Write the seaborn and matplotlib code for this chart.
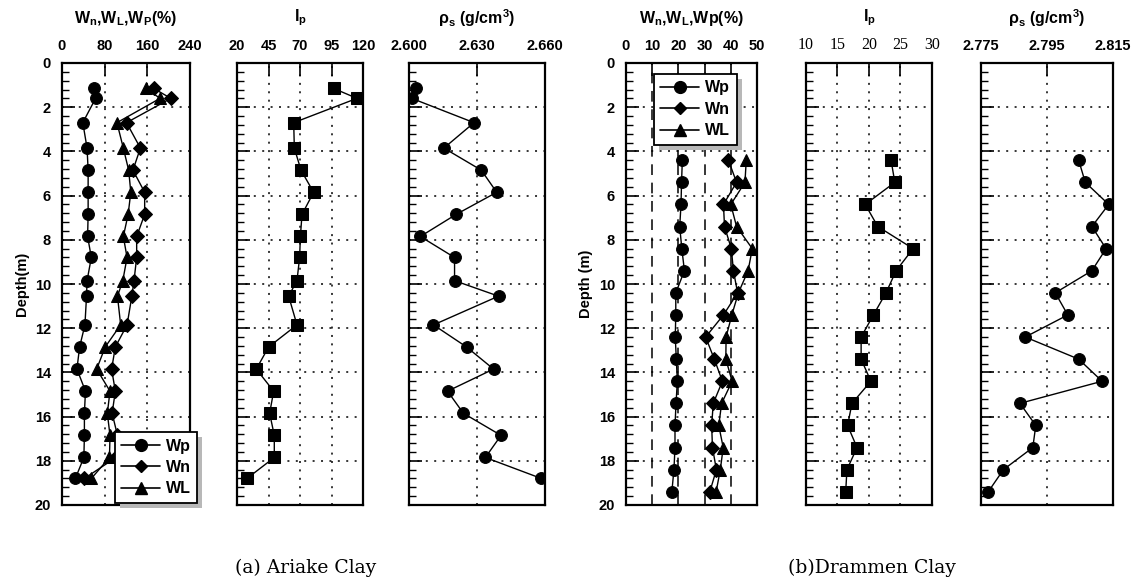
import matplotlib
matplotlib.use("Agg")
import matplotlib.pyplot as plt
import pandas as pd
import seaborn as sns
from matplotlib.lines import Line2D
from matplotlib.patches import Rectangle
from matplotlib.ticker import MultipleLocator, FixedLocator
from matplotlib.transforms import IdentityTransform

sns.set_style("white")
plt.rcParams["font.family"] = ["Liberation Sans", "DejaVu Sans"]
plt.rcParams["font.weight"] = "bold"
plt.rcParams["text.color"] = "black"
plt.rcParams["axes.labelcolor"] = "black"
plt.rcParams["xtick.color"] = "black"
plt.rcParams["ytick.color"] = "black"
plt.rcParams["mathtext.fontset"] = "custom"
plt.rcParams["mathtext.rm"] = "Liberation Sans:bold"
plt.rcParams["mathtext.it"] = "Liberation Sans:bold"
plt.rcParams["mathtext.bf"] = "Liberation Sans:bold"

# ---------------- Ariake clay profile ----------------
ariake_depth = [1.15, 1.6, 2.7, 3.85, 4.85, 5.85, 6.85, 7.85, 8.8, 9.85,
                10.55, 11.85, 12.85, 13.85, 14.85, 15.85, 16.85, 17.85, 18.8]
ariake_wp = [60, 63, 39, 47, 49, 49, 49, 48, 55, 47,
             46, 43, 33, 28, 44, 42, 42, 41, 25]
ariake_wn = [172, 204, 121, 147, 133, 155, 155, 140, 140, 135,
             131, 122, 100, 93, 100, 94, 104, 101, 42]
ariake_wl = [157, 184, 103, 115, 125, 129, 124, 115, 122, 114,
             104, 110, 81, 65, 90, 85, 90, 89, 55]
ariake_ip = [96.7, 115.2, 65, 65.5, 70.8, 80.8, 71.6, 70.3, 69.7, 67.6,
             61, 67.6, 45.1, 35.3, 49.1, 45.9, 49.6, 49.6, 27.9]
ariake_rho = [2.6033, 2.6012, 2.6287, 2.6154, 2.6319, 2.6387, 2.6208, 2.6050,
              2.6201, 2.6201, 2.6395, 2.6108, 2.6254, 2.6373, 2.6170, 2.6240,
              2.6406, 2.6337, 2.6584]

# ---------------- Drammen clay profile ----------------
drammen_depth = [4.4, 5.4, 6.4, 7.4, 8.4, 9.4, 10.4, 11.4,
                 12.4, 13.4, 14.4, 15.4, 16.4, 17.4, 18.4, 19.4]
drammen_wp = [21.5, 21.2, 21.0, 20.5, 21.3, 22.3, 19.0, 19.0,
              18.8, 19.2, 19.6, 19.1, 18.7, 18.7, 18.3, 17.5]
drammen_wn = [39.1, 42.2, 37.2, 37.6, 40.2, 41.0, 42.6, 37.2,
              30.4, 33.7, 36.8, 33.3, 32.7, 33.0, 34.5, 32.0]
drammen_wl = [45.9, 45.4, 40.0, 42.2, 48.2, 46.6, 42.9, 40.4,
              38.2, 38.1, 40.5, 36.5, 35.4, 37.1, 36.0, 34.4]
drammen_ip = [23.5, 24.1, 19.4, 21.4, 27.0, 24.3, 22.7, 20.7,
              18.75, 18.75, 20.3, 17.3, 16.6, 18.1, 16.5, 16.3]
drammen_rho = [2.8046, 2.8066, 2.8137, 2.8086, 2.8129, 2.8086, 2.7975, 2.8013,
               2.7884, 2.8046, 2.8117, 2.7868, 2.7916, 2.7907, 2.7818, 2.7772]

# axis ticks for each column
ariake_w_ticks = [0, 80, 160, 240]
ariake_ip_ticks = [20, 45, 70, 95, 120]
ariake_rho_ticks = [2.600, 2.630, 2.660]
drammen_w_ticks = [0, 10, 20, 30, 40, 50]
drammen_ip_ticks = [10, 15, 20, 25, 30]
drammen_rho_ticks = [2.775, 2.795, 2.815]

W, H = 1146, 586
fig = plt.figure(figsize=(W / 100, H / 100), dpi=100)
TOP, BOT = 63, 505


def make_axes(x0, x1):
    return fig.add_axes([x0 / W, 1 - BOT / H, (x1 - x0) / W, (BOT - TOP) / H])


DOT = (0, (1.3, 4.2))
DASH = (0, (7, 5))


def style_axes(ax, ticks, fmt, xgrid_style=DOT, show_ylabels=False, ylabel=None):
    ax.set_ylim(20, 0)
    ax.set_xlim(ticks[0], ticks[-1])
    ax.xaxis.tick_top()
    ax.xaxis.set_major_locator(FixedLocator(ticks))
    ax.set_xticklabels([fmt.format(t) for t in ticks])
    ax.yaxis.set_major_locator(MultipleLocator(2))
    ax.yaxis.set_minor_locator(MultipleLocator(0.4))
    ax.tick_params(axis="x", which="major", direction="in", length=9, width=1.2,
                   top=True, bottom=False, labelsize=10.5, pad=7)
    ax.tick_params(axis="y", which="major", direction="in", length=9, width=1.2,
                   left=True, right=False, labelleft=show_ylabels, labelsize=10.5, pad=8)
    ax.tick_params(axis="y", which="minor", direction="in", length=5, width=1,
                   left=True, right=False)
    for s in ax.spines.values():
        s.set_linewidth(1.6)
        s.set_color("black")
        s.set_visible(True)
    for y in range(2, 20, 2):
        ax.axhline(y, color="black", lw=1.1, ls=DOT, zorder=1)
    for x in ticks[1:-1]:
        ax.axvline(x, color="black", lw=1.1, ls=xgrid_style, zorder=1)
    ax.set_xlabel("")
    ax.set_ylabel("")
    if ylabel:
        ax.set_ylabel(ylabel, fontsize=10.5, fontweight="bold", labelpad=4)


def draw(ax, values, depth, marker, ms):
    df = pd.DataFrame({"value": values, "depth": depth})
    sns.lineplot(data=df, x="value", y="depth", sort=False, estimator=None, ax=ax,
                 color="black", lw=1.0, marker=marker, markersize=ms,
                 markeredgecolor="black", markerfacecolor="black", legend=False, zorder=3)


legend_handles = [
    Line2D([], [], color="black", lw=1.2, marker="o", markersize=8.5),
    Line2D([], [], color="black", lw=1.2, marker="D", markersize=6.5),
    Line2D([], [], color="black", lw=1.2, marker="^", markersize=9),
]
legend_labels = ["Wp", "Wn", "WL"]


def add_legend(ax, loc, anchor):
    leg = ax.legend(legend_handles, legend_labels, loc=loc, bbox_to_anchor=anchor,
                    borderaxespad=0, frameon=True, fancybox=False, framealpha=1,
                    edgecolor="black", handlelength=2.4, handletextpad=0.4,
                    borderpad=0.4, labelspacing=0.4,
                    prop={"weight": "bold", "size": 11.5})
    leg.get_frame().set_linewidth(1.3)
    leg.set_zorder(6)
    return leg


# ---- (a) Ariake ----
ax1 = make_axes(62, 190)
draw(ax1, ariake_wp, ariake_depth, "o", 8.5)
draw(ax1, ariake_wn, ariake_depth, "D", 7)
draw(ax1, ariake_wl, ariake_depth, "^", 9)
style_axes(ax1, ariake_w_ticks, "{:g}", show_ylabels=True, ylabel="Depth(m)")
leg1 = add_legend(ax1, "lower left", (0.414, 0.005))

ax2 = make_axes(237, 363)
draw(ax2, ariake_ip, ariake_depth, "s", 8.5)
style_axes(ax2, ariake_ip_ticks, "{:g}")

ax3 = make_axes(409, 545)
draw(ax3, ariake_rho, ariake_depth, "o", 8.5)
style_axes(ax3, ariake_rho_ticks, "{:.3f}")

# ---- (b) Drammen ----
ax4 = make_axes(626, 757)
draw(ax4, drammen_wp, drammen_depth, "o", 8.5)
draw(ax4, drammen_wn, drammen_depth, "D", 7)
draw(ax4, drammen_wl, drammen_depth, "^", 9)
style_axes(ax4, drammen_w_ticks, "{:g}", xgrid_style=DASH, show_ylabels=True,
           ylabel="Depth (m)")
leg4 = add_legend(ax4, "upper left", (0.214, 0.975))

ax5 = make_axes(806, 932)
draw(ax5, drammen_ip, drammen_depth, "s", 8.5)
style_axes(ax5, drammen_ip_ticks, "{:g}")
for lbl in ax5.get_xticklabels():
    lbl.set_fontfamily(["Liberation Serif"])
    lbl.set_fontweight("normal")
    lbl.set_fontsize(11.5)

ax6 = make_axes(981, 1113)
draw(ax6, drammen_rho, drammen_depth, "o", 8.5)
style_axes(ax6, drammen_rho_ticks, "{:.3f}")

# column headings
title_y = 1 - 18 / H
heads = [
    (126, r"W$_{n}$,W$_{L}$,W$_{P}$(%)"),
    (300, r"I$_{p}$"),
    (477, r"ρ$_{s}$ (g/cm$^{3}$)"),
    (691, r"W$_{n}$,W$_{L}$,Wp(%)"),
    (869, r"I$_{p}$"),
    (1047, r"ρ$_{s}$ (g/cm$^{3}$)"),
]
for xc, txt in heads:
    fig.text(xc / W, title_y, txt, ha="center", va="center", fontsize=11.5,
             fontweight="bold")

# captions
cap_y = 1 - 568 / H
fig.text(306 / W, cap_y, "(a) Ariake Clay", ha="center", va="center",
         fontsize=13.5, fontweight="normal", family=["DejaVu Serif"])
fig.text(872 / W, cap_y, "(b)Drammen Clay", ha="center", va="center",
         fontsize=13.5, fontweight="normal", family=["DejaVu Serif"])

# drop shadows behind the legend boxes
fig.canvas.draw()
for ax, leg in ((ax1, leg1), (ax4, leg4)):
    bb = leg.get_frame().get_window_extent()
    off = 5
    sh = Rectangle((bb.x0 + off, bb.y0 - off), bb.width, bb.height,
                   transform=IdentityTransform(), facecolor="#b8b8b8",
                   edgecolor="none", clip_on=False, zorder=5.5)
    ax.add_artist(sh)

fig.savefig("out.png", dpi=100)
